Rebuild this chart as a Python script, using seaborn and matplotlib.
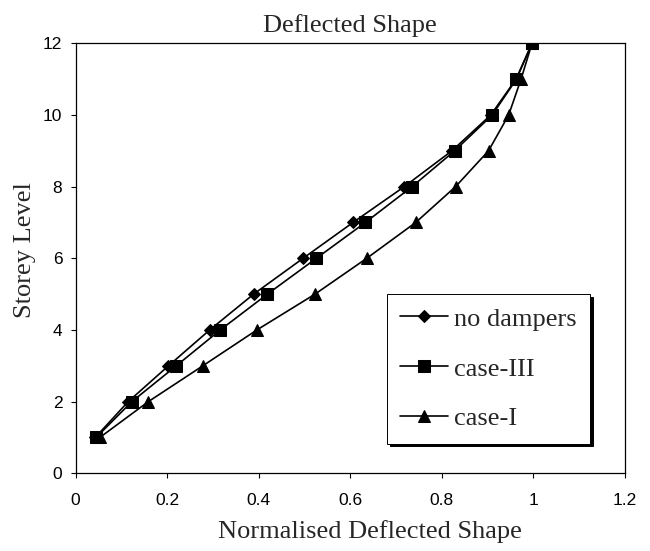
import seaborn as sns
import matplotlib.pyplot as plt
import pandas as pd

sns.set_theme(style='ticks')
plt.rcParams['font.family'] = ['Liberation Sans', 'DejaVu Sans']

SERIF = 'Liberation Serif'

storey = [1, 2, 3, 4, 5, 6, 7, 8, 9, 10, 11, 12]
no_dampers = [0.043, 0.115, 0.203, 0.293, 0.389, 0.497, 0.606, 0.718, 0.822, 0.907, 0.962, 0.997]
case_3 = [0.045, 0.123, 0.220, 0.316, 0.419, 0.526, 0.633, 0.735, 0.828, 0.910, 0.963, 0.997]
case_1 = [0.053, 0.159, 0.278, 0.396, 0.523, 0.636, 0.743, 0.830, 0.902, 0.946, 0.973, 0.997]

x_ticks = [0, 0.2, 0.4, 0.6, 0.8, 1.0, 1.2]
x_tick_labels = ['0', '0.2', '0.4', '0.6', '0.8', '1', '1.2']
y_ticks = [0, 2, 4, 6, 8, 10, 12]

series = [
    ('no dampers', no_dampers, 'D', 6.5),
    ('case-III', case_3, 's', 8.5),
    ('case-I', case_1, '^', 8.5),
]

fig = plt.figure(figsize=(6.5, 5.51), dpi=100)
ax = fig.add_axes([0.1162, 0.141, 0.8453, 0.7804])

for label, xs, marker, ms in series:
    df = pd.DataFrame({'x': xs, 'y': storey})
    sns.lineplot(data=df, x='x', y='y', sort=False, color='black', marker=marker,
                 markersize=ms, markeredgecolor='black', linewidth=1.2, label=label, ax=ax)

ax.set_xlim(0, 1.2)
ax.set_ylim(0, 12)
ax.set_xticks(x_ticks)
ax.set_xticklabels(x_tick_labels)
ax.set_yticks(y_ticks)
for s in ax.spines.values():
    s.set_visible(True)
    s.set_color('black')
    s.set_linewidth(0.9)
ax.tick_params(axis='both', direction='out', length=3.5, width=0.8, color='black',
               labelsize=12.5, labelcolor='black')
ax.tick_params(axis='x', pad=11)
ax.tick_params(axis='y', pad=6)

ax.set_title('Deflected Shape', fontfamily=SERIF, fontsize=19, pad=8)
ax.set_xlabel('Normalised Deflected Shape', fontfamily=SERIF, fontsize=19)
ax.set_ylabel('Storey Level', fontfamily=SERIF, fontsize=19)
ax.xaxis.set_label_coords(0.536, -0.108)
ax.yaxis.set_label_coords(-0.072, 0.519)

# legend with a solid black drop shadow, as in the scanned figure
leg = ax.legend(loc='upper left', bbox_to_anchor=(387 / 650, 1 - 294 / 551),
                bbox_transform=fig.transFigure, borderaxespad=0,
                prop={'family': SERIF, 'size': 19}, frameon=True, fancybox=False,
                edgecolor='black', framealpha=1, facecolor='white',
                shadow={'color': 'black', 'alpha': 1},
                handlelength=1.8, handletextpad=0.25, labelspacing=1.0, borderpad=0.5)
leg.get_frame().set_linewidth(0.7)

fig.savefig('out.png', dpi=100)
